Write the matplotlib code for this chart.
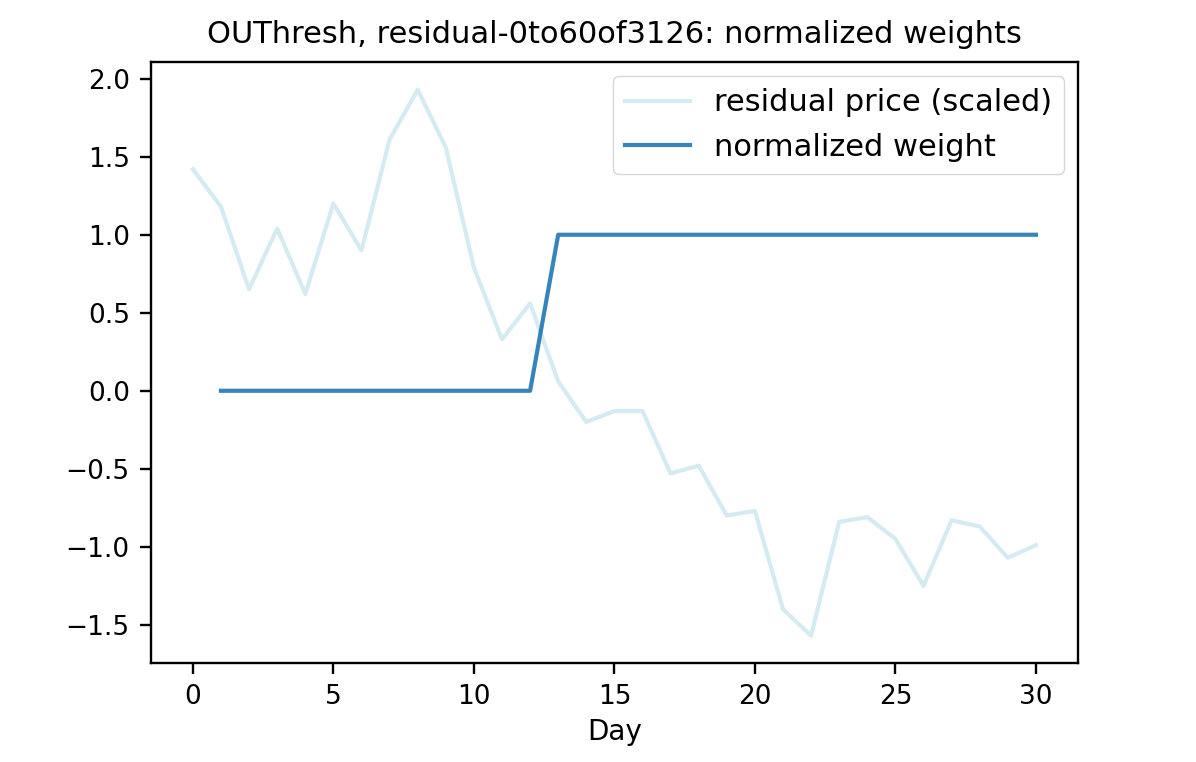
import matplotlib
matplotlib.use('Agg')
import matplotlib.pyplot as plt

# residual price (scaled), one value per day 0..30
days = list(range(31))
residual = [1.42, 1.18, 0.65, 1.04, 0.62, 1.20, 0.90, 1.61, 1.93, 1.56,
            0.79, 0.33, 0.56, 0.06, -0.20, -0.13, -0.13, -0.53, -0.48, -0.80,
            -0.77, -1.40, -1.57, -0.84, -0.81, -0.95, -1.25, -0.83, -0.87, -1.07,
            -0.99]

# normalized weight starts on day 1
weight_days = list(range(1, 31))
weight = [0.0] * 12 + [1.0] * 18

TITLE = 'OUThresh, residual-0to60of3126: normalized weights'

plt.rcParams['font.size'] = 19
plt.rcParams['axes.linewidth'] = 1.7
plt.rcParams['xtick.major.width'] = 1.7
plt.rcParams['ytick.major.width'] = 1.7
plt.rcParams['xtick.major.size'] = 8
plt.rcParams['ytick.major.size'] = 8
plt.rcParams['xtick.major.pad'] = 7
plt.rcParams['ytick.major.pad'] = 7

fig = plt.figure(figsize=(11.96, 7.62), dpi=100)
ax = fig.add_axes([0.126, 0.1299, 0.7754, 0.7883])

ax.plot(days, residual, color='lightblue', alpha=0.5, lw=3,
        label='residual price (scaled)')
ax.plot(weight_days, weight, color='#1f77b4', alpha=0.9, lw=3,
        label='normalized weight')

ax.set_xticks([0, 5, 10, 15, 20, 25, 30])
ax.set_yticks([-1.5, -1.0, -0.5, 0.0, 0.5, 1.0, 1.5, 2.0])
ax.set_xlabel('Day', fontsize=20, labelpad=6)
ax.set_title(TITLE, fontsize=22, pad=14)

ax.legend(loc='upper right', fontsize=22, handlelength=2.1,
          borderaxespad=0.45)

fig.savefig('out.png', dpi=100, facecolor='white')
